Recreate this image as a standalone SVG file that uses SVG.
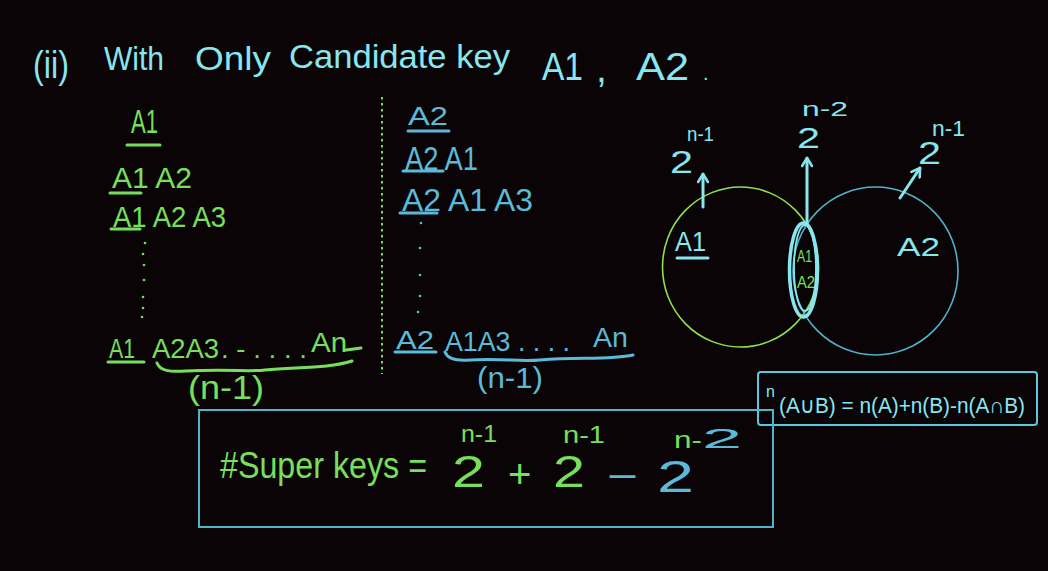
<svg xmlns="http://www.w3.org/2000/svg" width="1048" height="571" viewBox="0 0 1048 571">
<style>
text{font-family:"Liberation Sans","DejaVu Sans",sans-serif;}
.cy{fill:#88e6ee}
.gr{fill:#76e05c}
.bl{fill:#5bbad8}
.ulg{stroke:#76e05c;stroke-width:3;stroke-linecap:round;fill:none}
.ulb{stroke:#5bbad8;stroke-width:3;stroke-linecap:round;fill:none}
.ulc{stroke:#88e6ee;stroke-width:3;stroke-linecap:round;fill:none}
.dg{fill:#76e05c}
.db{fill:#5bbad8}
.arr{stroke:#88e6ee;stroke-width:3;fill:none;stroke-linecap:round}
</style>
<defs>
<marker id="head" viewBox="0 0 12 12" refX="10" refY="6" markerWidth="12" markerHeight="12" markerUnits="userSpaceOnUse" orient="auto">
<path d="M2,1 L10,6 L2,11" fill="none" stroke="#88e6ee" stroke-width="2.6" stroke-linecap="round" stroke-linejoin="round"/>
</marker>
</defs>
<rect width="1048" height="571" fill="#0a0406"/>

<g id="title">
<text class="cy" x="33" y="78" font-size="39" textLength="36" lengthAdjust="spacingAndGlyphs">(ii)</text>
<text class="cy" x="104" y="70" font-size="34" textLength="60" lengthAdjust="spacingAndGlyphs">With</text>
<text class="cy" x="195" y="70" font-size="34" textLength="76" lengthAdjust="spacingAndGlyphs">Only</text>
<text class="cy" x="289" y="68" font-size="34" textLength="221" lengthAdjust="spacingAndGlyphs">Candidate key</text>
<text class="cy" x="542" y="80" font-size="39" textLength="41" lengthAdjust="spacingAndGlyphs">A1</text>
<text class="cy" x="596" y="82" font-size="39">,</text>
<text class="cy" x="636" y="80" font-size="39" textLength="53" lengthAdjust="spacingAndGlyphs">A2</text>
<text class="cy" x="703" y="80" font-size="20">.</text>
</g>

<g id="left-column">
<text class="gr" x="131" y="133" font-size="33" textLength="27" lengthAdjust="spacingAndGlyphs">A1</text>
<line class="ulg" x1="127" y1="145" x2="160" y2="145"/>
<text class="gr" x="112" y="188" font-size="30" textLength="80" lengthAdjust="spacingAndGlyphs">A1 A2</text>
<line class="ulg" x1="110" y1="193" x2="141" y2="193"/>
<text class="gr" x="113" y="227" font-size="30" textLength="113" lengthAdjust="spacingAndGlyphs">A1 A2 A3</text>
<line class="ulg" x1="111" y1="229" x2="140" y2="229"/>
<circle class="dg" cx="145" cy="243" r="1.3"/>
<circle class="dg" cx="143" cy="254" r="1.3"/>
<circle class="dg" cx="144" cy="265" r="1.3"/>
<circle class="dg" cx="144" cy="280" r="1.3"/>
<circle class="dg" cx="143" cy="297" r="1.3"/>
<circle class="dg" cx="143" cy="308" r="1.3"/>
<circle class="dg" cx="142" cy="317" r="1.3"/>
<text class="gr" x="109" y="358" font-size="28" textLength="26" lengthAdjust="spacingAndGlyphs">A1</text>
<line class="ulg" x1="108" y1="362" x2="144" y2="362"/>
<text class="gr" x="152" y="358" font-size="28" textLength="67" lengthAdjust="spacingAndGlyphs">A2A3</text>
<text class="gr" x="221" y="358" font-size="26" textLength="86" lengthAdjust="spacingAndGlyphs">. - . . . .</text>
<text class="gr" x="311" y="352" font-size="28" textLength="36" lengthAdjust="spacingAndGlyphs">An</text>
<path class="ulg" d="M346,350 Q354,349 361,348"/>
<path class="ulg" d="M157,363 C160,371 170,372 185,371 C230,369 250,372 265,370 C300,367 330,368 352,361"/>
<text class="gr" x="188" y="399" font-size="34" textLength="76" lengthAdjust="spacingAndGlyphs">(n-1)</text>
</g>

<g id="divider">
<line x1="382" y1="97" x2="382" y2="374" stroke="#76e05c" stroke-width="2" stroke-dasharray="2.5 3.5"/>
</g>

<g id="right-column">
<text class="bl" x="408" y="125" font-size="26" textLength="40" lengthAdjust="spacingAndGlyphs">A2</text>
<line class="ulb" x1="408" y1="131" x2="449" y2="131"/>
<text class="bl" x="405" y="170" font-size="34" textLength="73" lengthAdjust="spacingAndGlyphs">A2 A1</text>
<line class="ulb" x1="403" y1="171" x2="443" y2="171"/>
<text class="bl" x="402" y="211" font-size="32" textLength="131" lengthAdjust="spacingAndGlyphs">A2 A1 A3</text>
<line class="ulb" x1="400" y1="213" x2="437" y2="213"/>
<circle class="db" cx="421" cy="223" r="1.3"/>
<circle class="db" cx="420" cy="248" r="1.3"/>
<circle class="db" cx="420" cy="275" r="1.3"/>
<circle class="db" cx="420" cy="296" r="1.3"/>
<circle class="db" cx="418" cy="312" r="1.3"/>
<text class="bl" x="396" y="349" font-size="26" textLength="38" lengthAdjust="spacingAndGlyphs">A2</text>
<line class="ulb" x1="395" y1="352" x2="436" y2="352"/>
<text class="bl" x="445" y="351" font-size="28" textLength="125" lengthAdjust="spacingAndGlyphs">A1A3 . . . .</text>
<text class="bl" x="593" y="347" font-size="28" textLength="35" lengthAdjust="spacingAndGlyphs">An</text>
<path class="ulb" d="M445,352 C448,360 458,361 470,360 C500,358 520,362 540,360 C580,357 610,360 633,355"/>
<text class="bl" x="477" y="388" font-size="30" textLength="66" lengthAdjust="spacingAndGlyphs">(n-1)</text>
</g>

<g id="venn-A1">
<ellipse cx="740.5" cy="267" rx="78" ry="80" fill="none" stroke="#8ee04c" stroke-width="1.6"/>
<text class="cy" x="675" y="251" font-size="27" textLength="31" lengthAdjust="spacingAndGlyphs">A1</text>
<line class="ulc" x1="677" y1="258" x2="708" y2="258"/>
</g>
<g id="venn-A2">
<ellipse cx="875.5" cy="271" rx="82.5" ry="84" fill="none" stroke="#4fb2c8" stroke-width="1.6"/>
<text class="cy" x="897" y="256" font-size="25" textLength="43" lengthAdjust="spacingAndGlyphs">A2</text>
</g>
<g id="venn-intersection">
<ellipse cx="803.5" cy="270" rx="14" ry="47" fill="none" stroke="#88e6ee" stroke-width="3.5"/>
<ellipse cx="805" cy="268" rx="11" ry="43" fill="none" stroke="#88e6ee" stroke-width="1.8"/>
<text class="gr" x="797" y="262" font-size="17" textLength="15" lengthAdjust="spacingAndGlyphs">A1</text>
<text class="gr" x="797" y="288" font-size="16" textLength="18" lengthAdjust="spacingAndGlyphs">A2</text>
</g>

<g id="labels-power">
<text class="cy" x="670" y="173" font-size="32" textLength="23" lengthAdjust="spacingAndGlyphs">2</text>
<text class="cy" x="687" y="141" font-size="20" textLength="27" lengthAdjust="spacingAndGlyphs">n-1</text>
<text class="cy" x="797" y="148" font-size="30" textLength="23" lengthAdjust="spacingAndGlyphs">2</text>
<text class="cy" x="802" y="116" font-size="20" textLength="46" lengthAdjust="spacingAndGlyphs">n-2</text>
<text class="cy" x="918" y="164" font-size="32" textLength="23" lengthAdjust="spacingAndGlyphs">2</text>
<text class="cy" x="932" y="136" font-size="22" textLength="33" lengthAdjust="spacingAndGlyphs">n-1</text>
</g>

<g id="connectors">
<line class="arr" x1="703" y1="207" x2="703" y2="174" marker-end="url(#head)"/>
<line class="arr" x1="807" y1="224" x2="807" y2="158" marker-end="url(#head)"/>
<line class="arr" x1="900" y1="198" x2="920" y2="168" marker-end="url(#head)"/>
</g>

<g id="formula">
<rect x="758" y="372" width="279" height="53" rx="3" fill="none" stroke="#5cc8e0" stroke-width="2"/>
<text class="cy" x="766" y="397" font-size="16">n</text>
<text class="cy" x="779" y="413" font-size="22" textLength="246" lengthAdjust="spacingAndGlyphs">(A∪B) = n(A)+n(B)-n(A∩B)</text>
</g>

<g id="superkeys">
<rect x="199" y="410" width="574" height="117" fill="none" stroke="#4fb3cc" stroke-width="2"/>
<text class="gr" x="220" y="478" font-size="36" textLength="207" lengthAdjust="spacingAndGlyphs">#Super keys =</text>
<text class="gr" x="452" y="487" font-size="44" textLength="33" lengthAdjust="spacingAndGlyphs">2</text>
<text class="gr" x="461" y="442" font-size="24" textLength="36" lengthAdjust="spacingAndGlyphs">n-1</text>
<text class="gr" x="508" y="488" font-size="40">+</text>
<text class="gr" x="553" y="487" font-size="44" textLength="32" lengthAdjust="spacingAndGlyphs">2</text>
<text class="gr" x="563" y="443" font-size="24" textLength="42" lengthAdjust="spacingAndGlyphs">n-1</text>
<text class="bl" x="607" y="490" font-size="40" textLength="31" lengthAdjust="spacingAndGlyphs">−</text>
<text class="bl" x="657" y="492" font-size="44" textLength="37" lengthAdjust="spacingAndGlyphs">2</text>
<text class="gr" x="674" y="448" font-size="24" textLength="28" lengthAdjust="spacingAndGlyphs">n-</text>
<text class="bl" x="702" y="448" font-size="28" textLength="40" lengthAdjust="spacingAndGlyphs">2</text>
</g>
</svg>
